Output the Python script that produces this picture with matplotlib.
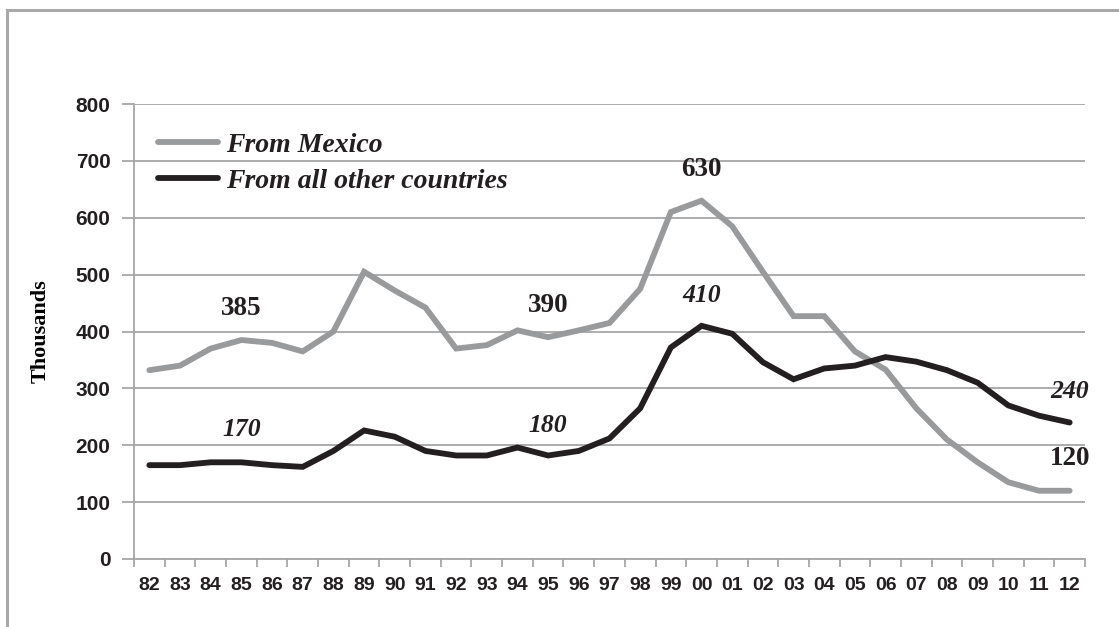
import numpy as np
import matplotlib.pyplot as plt
from matplotlib.patches import Rectangle

years = ["82", "83", "84", "85", "86", "87", "88", "89", "90", "91", "92",
         "93", "94", "95", "96", "97", "98", "99", "00", "01", "02", "03",
         "04", "05", "06", "07", "08", "09", "10", "11", "12"]
from_mexico = [332, 340, 370, 385, 380, 365, 400, 505, 472, 442, 370,
               376, 402, 390, 402, 415, 475, 610, 630, 585, 505, 427,
               427, 365, 333, 265, 210, 170, 135, 120, 120]
from_others = [165, 165, 170, 170, 165, 162, 190, 226, 215, 190, 182,
               182, 196, 182, 190, 212, 265, 372, 410, 396, 346, 316,
               335, 340, 355, 347, 332, 310, 270, 252, 240]

# (year, series, label, bold-upright?)
callouts = [("85", "mex", "385", True), ("95", "mex", "390", True),
            ("00", "mex", "630", True), ("12", "mex", "120", True),
            ("85", "oth", "170", False), ("95", "oth", "180", False),
            ("00", "oth", "410", False), ("12", "oth", "240", False)]

GRAY = "#999a9c"
BLACK = "#231f20"
GRID = "#a6a6a6"
serif = ["Liberation Serif", "DejaVu Serif"]
sans = ["Liberation Sans", "DejaVu Sans"]

fig = plt.figure(figsize=(11.19, 6.27), dpi=100)
fig.patches.append(Rectangle((7 / 1119, -0.1), 1.2, (627 - 10) / 627 + 0.1,
                             transform=fig.transFigure, fill=False,
                             edgecolor="#a8a8a8", linewidth=2.2))

ax = fig.add_axes([134 / 1119, (627 - 559) / 627, (1085 - 134) / 1119,
                   (559 - 104) / 627])
x = np.arange(len(years))
ax.plot(x, from_mexico, color=GRAY, lw=4.2, solid_capstyle="round",
        solid_joinstyle="miter", label="From Mexico")
ax.plot(x, from_others, color=BLACK, lw=4.2, solid_capstyle="round",
        solid_joinstyle="miter", label="From all other countries")

ax.set_xlim(-0.5, len(years) - 0.5)
ax.set_ylim(0, 800)
ax.set_yticks(np.arange(0, 801, 100))
ax.set_xticks(x)
ax.set_xticklabels(years)
ax.set_xticks(np.arange(-0.5, len(years)), minor=True)
ax.tick_params(axis="x", which="major", length=0, pad=13)
ax.tick_params(axis="x", which="minor", length=6, width=1.3, color=GRID,
               direction="out")
ax.tick_params(axis="y", length=9, width=1.3, color=GRID, pad=8)
for lab in ax.get_xticklabels():
    lab.set_fontfamily(sans)
    lab.set_fontweight("bold")
    lab.set_fontsize(14)
    lab.set_color("#231f20")
for lab in ax.get_yticklabels():
    lab.set_fontfamily(sans)
    lab.set_fontweight("bold")
    lab.set_fontsize(15)
    lab.set_color("#231f20")

ax.grid(axis="y", color=GRID, lw=1.3)
ax.set_axisbelow(True)
for s in ["top", "right"]:
    ax.spines[s].set_visible(False)
ax.spines["left"].set_color(GRID)
ax.spines["bottom"].set_color(GRID)
ax.spines["left"].set_linewidth(1.3)
ax.spines["bottom"].set_linewidth(1.3)

ax.set_ylabel("Thousands", family=serif, fontweight="bold", fontsize=16,
              labelpad=18)

leg = ax.legend(loc="upper left", bbox_to_anchor=(0.0252, 0.938),
                frameon=False, borderpad=0, borderaxespad=0,
                handlelength=2.15, handletextpad=0.3, labelspacing=0.38,
                prop={"family": serif, "weight": "bold", "style": "italic",
                      "size": 20})
for t in leg.get_texts():
    t.set_color("#231f20")

series = {"mex": from_mexico, "oth": from_others}
offsets = {("85", "mex"): 56, ("95", "mex"): 56, ("00", "mex"): 55,
           ("12", "mex"): 57, ("85", "oth"): 58, ("95", "oth"): 53,
           ("00", "oth"): 54, ("12", "oth"): 55}
for yr, key, txt, upright in callouts:
    i = years.index(yr)
    v = series[key][i]
    ax.text(i, v + offsets[(yr, key)], txt, ha="center", va="center",
            family=serif, fontweight="bold",
            fontstyle="normal" if upright else "italic",
            fontsize=19.5 if upright else 18.5, color="#231f20")

fig.savefig("out.png", dpi=100)
